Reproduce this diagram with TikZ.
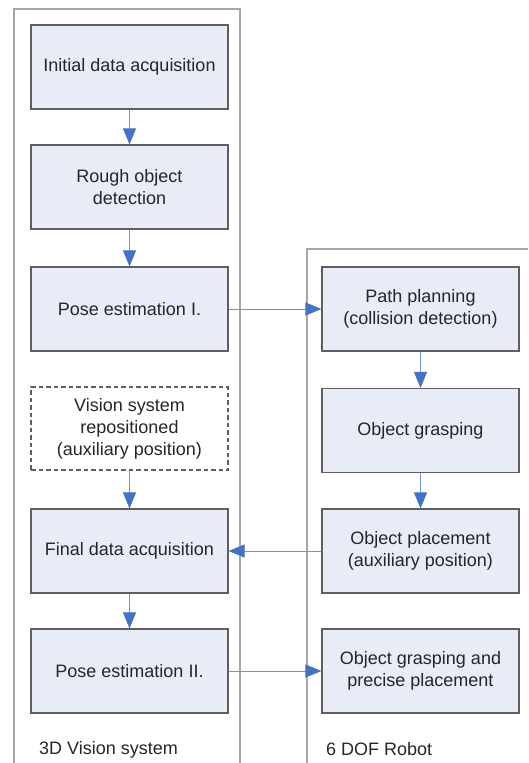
\documentclass[tikz,border=0pt]{standalone}
\usepackage{fontspec}
\setmainfont{Liberation Sans}
\usetikzlibrary{arrows.meta}
\definecolor{boxfill}{HTML}{E8ECF7}
\definecolor{boxline}{HTML}{5F5F5F}
\definecolor{frameline}{HTML}{A6A6A6}
\definecolor{linkblue}{HTML}{6D96D8}
\definecolor{headblue}{HTML}{4472C4}
\definecolor{txt}{HTML}{262626}
\begin{document}
\begin{tikzpicture}[x=1pt,y=1pt]
\tikzstyle{every node}+=[inner sep=0pt, text=txt, font=\fontsize{18}{22}\selectfont, align=center]
\tikzstyle{stage}=[draw=boxline, line width=1.1pt, fill=boxfill, minimum width=197pt, minimum height=84pt]
\tikzstyle{stagedash}=[draw=boxline, line width=1.3pt, dash pattern=on 4.5pt off 3pt, minimum width=197pt, minimum height=83pt]
\tikzstyle{frame}=[draw=frameline, line width=1.3pt]
\tikzstyle{link}=[draw=linkblue, line width=0.9pt, -{Triangle[length=16pt,width=13pt,color=headblue]}]
\useasboundingbox (0,0) rectangle (528,-763);
\draw [frame] (14,-763) -- (14,-9) -- (240,-9) -- (240,-763);
\draw [frame] (307,-763) -- (307,-249) -- (528,-249);
\node [stage] (initial) at (129.5,-67) {Initial data acquisition};
\node [stage] (rough) at (129.5,-187) {Rough object\\detection};
\node [stage] (poseone) at (129.5,-309) {Pose estimation I.};
\node [stagedash] (repos) at (129.5,-428.5) {Vision system\\repositioned\\(auxiliary position)};
\node [stage] (final) at (129.5,-551) {Final data acquisition};
\node [stage] (posetwo) at (129.5,-671) {Pose estimation II.};
\node [stage] (path) at (420.5,-309) {Path planning\\(collision detection)};
\node [stage] (grasp) at (420.5,-430.5) {Object grasping};
\node [stage] (place) at (420.5,-551) {Object placement\\(auxiliary position)};
\node [stage] (precise) at (420.5,-671) {Object grasping and\\precise placement};
\node [anchor=west] (vislabel) at (39,-749.5) {3D Vision system};
\node [anchor=west] (roblabel) at (326,-749.5) {6 DOF Robot};
\draw [link] (initial) -- (rough);
\draw [link] (rough) -- (poseone);
\draw [link] (repos) -- (final);
\draw [link] (final) -- (posetwo);
\draw [link] (path) -- (grasp);
\draw [link] (grasp) -- (place);
\draw [link] (poseone) -- (path);
\draw [link] (place) -- (final);
\draw [link] (posetwo) -- (precise);
\end{tikzpicture}
\end{document}
